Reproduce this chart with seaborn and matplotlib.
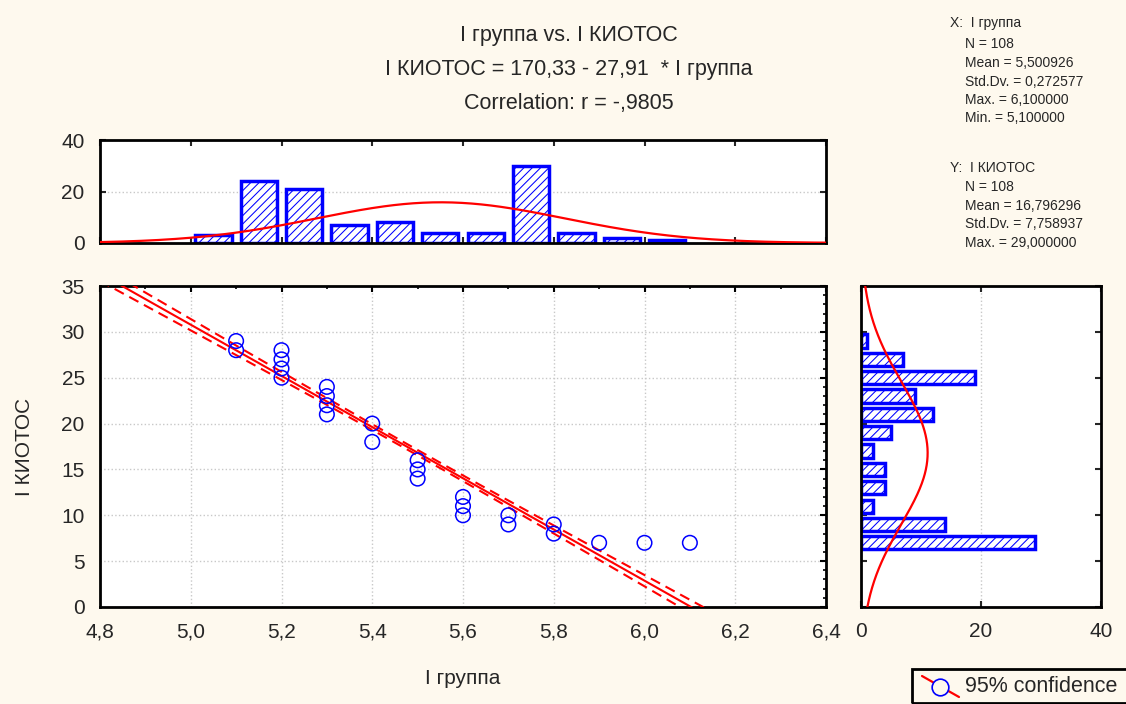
import numpy as np
import matplotlib
matplotlib.use('Agg')
import matplotlib.pyplot as plt
import seaborn as sns
from matplotlib.ticker import MultipleLocator
from matplotlib.patches import Rectangle
from matplotlib.lines import Line2D

# ── Data ───────────────────────────────────────────────
grp_x = [5.1, 5.1, 5.2, 5.2, 5.2, 5.2, 5.3, 5.3, 5.3, 5.3, 5.4, 5.4,
         5.5, 5.5, 5.5, 5.6, 5.6, 5.6, 5.7, 5.7, 5.8, 5.8, 5.9, 6.0, 6.1]
kiotos_y = [29, 28, 28, 27, 26, 25, 24, 23, 22, 21, 20, 18,
            16, 15, 14, 12, 11, 10, 10, 9, 9, 8, 7, 7, 7]

top_bins = [5.0, 5.1, 5.2, 5.3, 5.4, 5.5, 5.6, 5.7, 5.8, 5.9, 6.0]
top_counts = [3, 24, 21, 7, 8, 4, 4, 30, 4, 2, 1]

right_bins = [7, 9, 11, 13, 15, 17, 19, 21, 23, 25, 27, 29]
right_counts = [29, 14, 2, 4, 4, 2, 5, 12, 9, 19, 7, 1]

intercept, slope = 170.33, -27.91
n_obs = 108
x_mean, x_sd = 5.500926, 0.272577
y_mean, y_sd = 16.796296, 7.758937
r_val = -0.9805

x_ticks = [4.8, 5.0, 5.2, 5.4, 5.6, 5.8, 6.0, 6.2, 6.4]
y_ticks = [0, 5, 10, 15, 20, 25, 30, 35]

title_lines = ['I группа vs. I КИОТОС',
               'I КИОТОС = 170,33 - 27,91  * I группа',
               'Correlation: r = -,9805']

stats_lines = [
    ("X:  I группа", 950, 23), ("N = 108", 965, 44),
    ("Mean = 5,500926", 965, 63), ("Std.Dv. = 0,272577", 965, 82),
    ("Max. = 6,100000", 965, 100), ("Min. = 5,100000", 965, 118),
    ("Y:  I КИОТОС", 950, 168), ("N = 108", 965, 187),
    ("Mean = 16,796296", 965, 206), ("Std.Dv. = 7,758937", 965, 224),
    ("Max. = 29,000000", 965, 243),
]

BG = '#FEF9EE'
W, H = 1126, 704

sns.set_style('white')
plt.rcParams['font.family'] = ['Liberation Sans', 'DejaVu Sans']
plt.rcParams['hatch.linewidth'] = 0.75


def comma(v, fmt='{:.1f}'):
    return fmt.format(v).replace('.', ',')


def style_box(a):
    for sp in a.spines.values():
        sp.set_visible(True)
        sp.set_color('black')
        sp.set_linewidth(2)
    a.set_facecolor('white')


def hatch_bars(a):
    for p in a.patches:
        p.set_facecolor('white')
        p.set_edgecolor('blue')
        p.set_linewidth(2.5)
        p.set_hatch('////')


fig = plt.figure(figsize=(W / 100, H / 100), dpi=100, facecolor=BG)
ax = fig.add_axes([100 / W, 1 - 607 / H, 726 / W, 321 / H])
ax_top = fig.add_axes([100 / W, 1 - 243 / H, 726 / W, 103 / H])
ax_right = fig.add_axes([861 / W, 1 - 607 / H, 240 / W, 321 / H])

# ── Scatter with regression line and 95% band ──────────
sns.scatterplot(x=grp_x, y=kiotos_y, ax=ax, s=110, marker='o', zorder=4)
pts = ax.collections[-1]
pts.set_facecolor('none')
pts.set_edgecolor('blue')
pts.set_linewidth(1.1)

xs = np.linspace(4.8, 6.4, 300)
fit = intercept + slope * xs
s_res = y_sd * np.sqrt((1 - r_val ** 2) * (n_obs - 1) / (n_obs - 2))
sxx = (n_obs - 1) * x_sd ** 2
half = 1.9826 * s_res * np.sqrt(1 / n_obs + (xs - x_mean) ** 2 / sxx)
ax.plot(xs, fit, color='red', lw=1.5, zorder=3)
ax.plot(xs, fit + half, color='red', lw=1.5, ls=(0, (5, 3)), zorder=3)
ax.plot(xs, fit - half, color='red', lw=1.5, ls=(0, (5, 3)), zorder=3)

ax.set_xlim(4.8, 6.4)
ax.set_ylim(0, 35)
ax.set_xticks(x_ticks, [comma(t) for t in x_ticks])
ax.set_yticks(y_ticks, [str(t) for t in y_ticks])
ax.xaxis.set_minor_locator(MultipleLocator(0.1))
ax.yaxis.set_minor_locator(MultipleLocator(1))
ax.tick_params(which='both', direction='in', top=True, right=True, color='black')
ax.tick_params(which='major', length=4, width=1.5, labelsize=15, pad=11)
ax.tick_params(which='minor', length=2.5, width=1.2)
ax.grid(True, which='major', color='#C8C8C8', ls=':', lw=1)
ax.set_xlabel('I группа', fontsize=15, labelpad=20)
ax.set_ylabel('I КИОТОС', fontsize=15, labelpad=20)
style_box(ax)

# ── Top histogram (X) ──────────────────────────────────
top_edges = [b - 0.05 for b in top_bins] + [top_bins[-1] + 0.05]
sns.histplot(x=top_bins, weights=top_counts, bins=top_edges, shrink=0.8,
             ax=ax_top, color='blue')
hatch_bars(ax_top)
xt = np.linspace(4.75, 6.35, 300)
top_curve = n_obs * 0.1 / (x_sd * np.sqrt(2 * np.pi)) * np.exp(-(xt - x_mean) ** 2 / (2 * x_sd ** 2))
ax_top.plot(xt, top_curve, color='red', lw=1.6, zorder=5)
ax_top.set_xlim(4.75, 6.35)
ax_top.set_ylim(0, 40)
ax_top.set_yticks([0, 20, 40], ['0', '20', '40'])
ax_top.set_xticks(np.arange(4.75, 6.36, 0.2), [])
ax_top.tick_params(which='both', direction='in', top=True, right=True,
                   bottom=True, left=True, length=4, width=1.5, labelsize=15, pad=11)
ax_top.yaxis.grid(True, color='#C8C8C8', ls=':', lw=1)
ax_top.xaxis.grid(False)
ax_top.set_xlabel('')
ax_top.set_ylabel('')
style_box(ax_top)

# ── Right histogram (Y) ────────────────────────────────
right_edges = [b - 1 for b in right_bins] + [right_bins[-1] + 1]
sns.histplot(y=right_bins, weights=right_counts, bins=right_edges, shrink=0.72,
             ax=ax_right, color='blue')
hatch_bars(ax_right)
yr = np.linspace(0, 35, 300)
right_curve = n_obs * 2 / (y_sd * np.sqrt(2 * np.pi)) * np.exp(-(yr - y_mean) ** 2 / (2 * y_sd ** 2))
ax_right.plot(right_curve, yr, color='red', lw=1.6, zorder=5)
ax_right.set_xlim(0, 40)
ax_right.set_ylim(0, 35)
ax_right.set_xticks([0, 20, 40], ['0', '20', '40'])
ax_right.set_yticks(y_ticks, [])
ax_right.tick_params(which='both', direction='in', top=True, right=True,
                     bottom=True, left=True, length=4, width=1.5, labelsize=15, pad=11)
ax_right.xaxis.grid(True, color='#C8C8C8', ls=':', lw=1)
ax_right.yaxis.grid(False)
ax_right.set_xlabel('')
ax_right.set_ylabel('')
style_box(ax_right)

# ── Titles ─────────────────────────────────────────────
for txt, py in zip(title_lines, [35, 70, 103]):
    fig.text(569 / W, 1 - py / H, txt, ha='center', va='center', fontsize=15.5)

# ── Summary stats block (clipped like the original) ────
ax_st = fig.add_axes([940 / W, 1 - 250 / H, 186 / W, 250 / H])
ax_st.axis('off')
for label, px, py in stats_lines:
    t = fig.text(px / W, 1 - py / H, label, ha='left', va='center', fontsize=10)
    t.set_clip_box(ax_st.bbox)
    t.set_clip_on(True)

# ── Legend box ─────────────────────────────────────────
fig.patches.append(Rectangle((912 / W, 1 / H), 240 / W, 34 / H, fill=False, ec='black',
                             lw=2, transform=fig.transFigure, figure=fig))
fig.lines.append(Line2D([922 / W, 959 / W], [1 - 676 / H, 1 - 697 / H], color='red', lw=1.6,
                        transform=fig.transFigure, figure=fig))
fig.lines.append(Line2D([940 / W], [1 - 687 / H], marker='o', ms=12, mfc=BG, mec='blue',
                        mew=1.2, transform=fig.transFigure, figure=fig))
fig.text(965 / W, 1 - 687 / H, '95% confidence', ha='left', va='center', fontsize=15.5)

plt.savefig('out.png', dpi=100, facecolor=BG)
